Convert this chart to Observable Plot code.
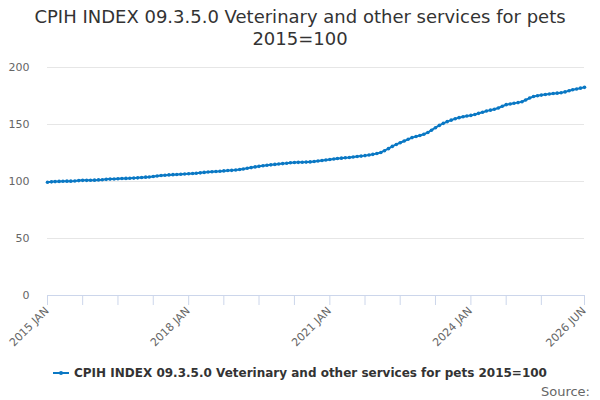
<!DOCTYPE html>
<html>
<head>
<meta charset="utf-8">
<script src="https://cdn.jsdelivr.net/npm/d3@7"></script>
<script src="https://cdn.jsdelivr.net/npm/@observablehq/plot@0.6"></script>
<style>
  body { margin: 0; background: #fff; font-family: "DejaVu Sans", sans-serif; }
  #wrap { position: relative; width: 600px; height: 400px; overflow: hidden; }
  #title { position: absolute; top: 6px; left: 0; width: 600px; text-align: center; font-size: 18px; line-height: 22px; color: #333; }
  #chart { position: absolute; top: 50px; left: 0; }
  #legend { position: absolute; top: 365px; left: 0; width: 600px; text-align: center; font-size: 12px; font-weight: bold; color: #333; white-space: nowrap; }
  #legend svg { vertical-align: middle; margin-right: 5px; }
  #legend span { vertical-align: middle; }
  #source { position: absolute; top: 384px; right: 10px; font-size: 13px; color: #666; }
</style>
</head>
<body>
<div id="wrap">
  <div id="title">CPIH INDEX 09.3.5.0 Veterinary and other services for pets<br>2015=100</div>
  <div id="chart"></div>
  <div id="legend"></div>
  <div id="source">Source:</div>
</div>
<script>
const seriesName = "CPIH INDEX 09.3.5.0 Veterinary and other services for pets 2015=100";
const startYear = 2015;
const startMonth = 0; // January
const values = [
  // 2015
  99.3, 99.7, 99.9, 100.1, 100.2, 100.3, 100.3, 100.5, 100.8, 101.0, 101.0, 101.1,
  // 2016
  101.2, 101.4, 101.6, 101.9, 102.1, 102.2, 102.4, 102.6, 102.7, 102.8, 103.0, 103.2,
  // 2017
  103.5, 103.8, 104.0, 104.4, 104.8, 105.2, 105.5, 105.8, 106.0, 106.2, 106.4, 106.6,
  // 2018
  106.8, 107.0, 107.2, 107.6, 108.0, 108.3, 108.6, 108.8, 109.0, 109.3, 109.6, 109.8,
  // 2019
  110.1, 110.5, 111.0, 111.6, 112.2, 112.8, 113.3, 113.8, 114.2, 114.6, 115.0, 115.4,
  // 2020
  115.7, 116.0, 116.4, 116.7, 116.8, 116.9, 117.0, 117.2, 117.6, 118.0, 118.4, 118.8,
  // 2021
  119.3, 119.8, 120.2, 120.5, 120.8, 121.1, 121.5, 121.9, 122.3, 122.7, 123.2, 123.8,
  // 2022
  124.5, 125.5, 127.0, 128.8, 130.8, 132.5, 134.0, 135.5, 137.0, 138.5, 139.5, 140.3,
  // 2023
  141.5, 143.0, 145.0, 147.2, 149.2, 151.0, 152.5, 153.8, 155.0, 156.0, 156.8, 157.5,
  // 2024
  158.0, 158.8, 159.8, 160.8, 161.8, 162.6, 163.4, 164.5, 166.0, 167.4, 168.0, 168.6,
  // 2025
  169.2, 170.0, 171.5, 173.2, 174.5, 175.2, 175.8, 176.3, 176.8, 177.2, 177.5, 177.8,
  // 2026
  178.6, 179.6, 180.5, 181.2, 181.9, 182.6
];
const tickMonths = ["2015-01","2015-10","2016-07","2017-04","2018-01","2018-10","2019-07","2020-04","2021-01","2021-10","2022-07","2023-04","2024-01","2024-10","2025-07","2026-06"];
const labelMonths = ["2015-01","2018-01","2021-01","2024-01","2026-06"];
const labelTexts = ["2015 JAN","2018 JAN","2021 JAN","2024 JAN","2026 JUN"];
const yTicks = [0, 50, 100, 150, 200];

const lineColor = "#0a78c4";
const parseMonth = s => { const [y, m] = s.split("-").map(Number); return new Date(Date.UTC(y, m - 1, 1)); };
const data = values.map((v, i) => ({ date: new Date(Date.UTC(startYear, startMonth + i, 1)), value: v }));
const tickDates = tickMonths.map(parseMonth);
const labels = labelMonths.map((m, i) => ({ date: parseMonth(m), text: labelTexts[i] }));

const chart = Plot.plot({
  width: 600,
  height: 300,
  marginLeft: 47,
  marginRight: 16,
  marginTop: 17,
  marginBottom: 55,
  style: { fontFamily: "DejaVu Sans, sans-serif", background: "transparent" },
  x: { type: "utc", domain: [data[0].date, data[data.length - 1].date] },
  y: { domain: [0, 200] },
  marks: [
    Plot.gridY([50, 100, 150, 200], { stroke: "#e6e6e6", strokeOpacity: 1 }),
    Plot.axisY(yTicks, { tickSize: 0, tickPadding: 18, fontSize: 11, fill: "#666", label: null }),
    Plot.ruleY([0], { stroke: "#ccd6eb" }),
    Plot.axisX(tickDates, { tickSize: 10, stroke: "#ccd6eb", strokeOpacity: 1, tickFormat: () => "", label: null }),
    Plot.text(labels, { x: "date", text: "text", frameAnchor: "bottom", rotate: -45, textAnchor: "end", dx: 2, dy: 16, fontSize: 11, fill: "#666" }),
    Plot.line(data, { x: "date", y: "value", stroke: lineColor, strokeWidth: 2 }),
    Plot.dot(data, { x: "date", y: "value", r: 1.8, fill: lineColor, stroke: "none" })
  ]
});
document.getElementById("chart").appendChild(chart);

const legend = document.getElementById("legend");
legend.innerHTML = `<svg width="16" height="10"><line x1="0" x2="16" y1="5" y2="5" stroke="${lineColor}" stroke-width="2"/><circle cx="8" cy="5" r="2" fill="${lineColor}"/></svg><span></span>`;
legend.querySelector("span").textContent = seriesName;
</script>
</body>
</html>
